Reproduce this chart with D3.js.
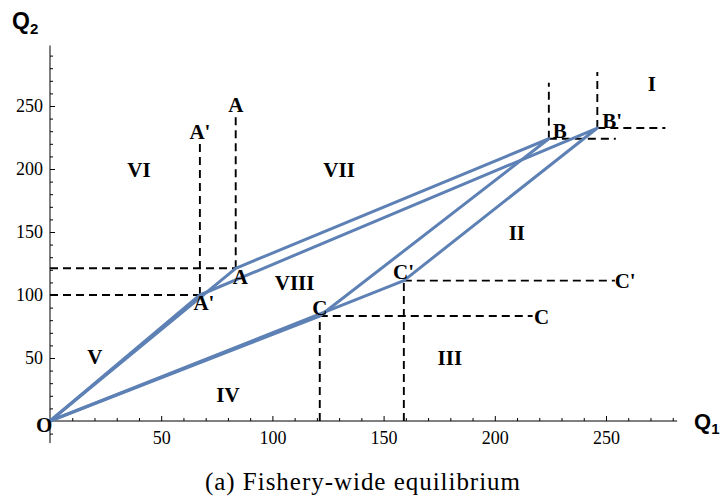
<!DOCTYPE html>
<html><head><meta charset="utf-8">
<script src="https://cdn.jsdelivr.net/npm/d3@7"></script>
<style>body{margin:0;background:#fff}</style>
</head><body>
<svg id="chart" width="725" height="502"></svg>
<script>
// ---- data ----
const pointNames = ["O","A","B","C","A'","B'","C'"];
const pointQ1 = [0, 83.5, 224.3, 121.3, 67.4, 246.1, 159.1];
const pointQ2 = [0, 121.2, 224.0, 83.3, 100.0, 232.5, 111.4];
// equilibrium outlines (by point name)
const pathOriginal = ["O","A","B","C","O"];
const pathPrimed = ["O","A'","B'","C'","O"];
// dashed guide segments [[q1,q2],[q1,q2]]
const guides = [
  [[0,121.2],[83.5,121.2]], [[83.5,121.2],[83.5,244]],
  [[0,100],[67.4,100]], [[67.4,100],[67.4,220.5]],
  [[224.3,224],[224.3,268.5]], [[224.3,224],[254.4,224]],
  [[246.1,232.5],[246.1,277]], [[246.1,232.5],[276.7,232.5]],
  [[121.3,0],[121.3,83.3]], [[121.3,83.3],[217,83.3]],
  [[159.1,0],[159.1,111.4]], [[159.1,111.4],[254,111.4]]
];
// point labels
const labelText = ["A","A'","A","A'","B","B'","C","C'","C","C'","O"];
const labelQ1 = [83.6, 67.4, 85.6, 69.2, 229.2, 252.8, 121.3, 159.0, 221.0, 258.6, -2.6];
const labelQ2 = [250.5, 229.0, 114.0, 93.6, 230.0, 238.0, 89.7, 118.0, 82.3, 111.0, -3.2];
// region labels
const regionText = ["I","II","III","IV","V","VI","VII","VIII"];
const regionQ1 = [270.6, 209.9, 179.8, 80.0, 20.2, 40.0, 130.0, 110.0];
const regionQ2 = [267.5, 149.0, 50.0, 20.6, 50.8, 199.0, 199.0, 109.5];
// ticks
const majorTicksX = [50,100,150,200,250];
const majorTicksY = [50,100,150,200,250];
const minorTicksX = d3.range(10, 290, 10).filter(v => v % 50 !== 0);
const minorTicksY = [-10].concat(d3.range(10, 300, 10).filter(v => v % 50 !== 0));
const xExtent = [0, 282];
const yExtent = [-17.5, 298];

// ---- drawing ----
const svg = d3.select("#chart");
const x = d3.scaleLinear().domain([0, 250]).range([50, 606]);
const y = d3.scaleLinear().domain([0, 250]).range([421, 106]);
const pt = Object.fromEntries(pointNames.map((n,i)=>[n,[pointQ1[i], pointQ2[i]]]));
const blue = "#5E81B5";
const serif = "'Liberation Serif','Times New Roman',serif";

// axes lines
svg.append("line").attr("x1", x(xExtent[0])).attr("x2", x(xExtent[1]))
  .attr("y1", y(0)).attr("y2", y(0)).attr("stroke","#000").attr("stroke-width",1);
svg.append("line").attr("x1", x(0)).attr("x2", x(0))
  .attr("y1", y(yExtent[0])).attr("y2", y(yExtent[1])).attr("stroke","#000").attr("stroke-width",1);

const gx = svg.append("g").attr("transform", `translate(0,${y(0)})`)
  .call(d3.axisBottom(x).tickValues(majorTicksX).tickSize(-5).tickPadding(10).tickFormat(d3.format("d")));
const gxm = svg.append("g").attr("transform", `translate(0,${y(0)})`)
  .call(d3.axisBottom(x).tickValues(minorTicksX).tickSize(-3).tickFormat(""));
const gy = svg.append("g").attr("transform", `translate(${x(0)},0)`)
  .call(d3.axisLeft(y).tickValues(majorTicksY).tickSize(-5).tickPadding(7).tickFormat(d3.format("d")));
const gym = svg.append("g").attr("transform", `translate(${x(0)},0)`)
  .call(d3.axisLeft(y).tickValues(minorTicksY).tickSize(-3).tickFormat(""));
[gx,gxm,gy,gym].forEach(g => {
  g.select(".domain").remove();
  g.selectAll("line").attr("stroke","#000").attr("stroke-width",1);
  g.selectAll("text").attr("font-family", serif).attr("font-size", 18).attr("fill","#000");
});

// dashed guides
svg.append("g").selectAll("line").data(guides).join("line")
  .attr("x1", d=>x(d[0][0])).attr("y1", d=>y(d[0][1]))
  .attr("x2", d=>x(d[1][0])).attr("y2", d=>y(d[1][1]))
  .attr("stroke","#000").attr("stroke-width",1.9).attr("stroke-dasharray","8,5");

// equilibrium lines
const line = d3.line().x(d=>x(d[0])).y(d=>y(d[1]));
[pathPrimed, pathOriginal].forEach(p => {
  svg.append("path").attr("d", line(p.map(n=>pt[n])))
    .attr("fill","none").attr("stroke", blue).attr("stroke-width", 3)
    .attr("stroke-linejoin","round");
});

// point labels
svg.append("g").selectAll("text").data(labelText).join("text")
  .attr("x",(d,i)=>x(labelQ1[i])).attr("y",(d,i)=>y(labelQ2[i]))
  .attr("text-anchor","middle").attr("dominant-baseline","central")
  .attr("font-family", serif).attr("font-weight","bold").attr("font-size", 21)
  .text(d=>d);

// region labels
svg.append("g").selectAll("text").data(regionText).join("text")
  .attr("x",(d,i)=>x(regionQ1[i])).attr("y",(d,i)=>y(regionQ2[i]))
  .attr("text-anchor","middle").attr("dominant-baseline","central")
  .attr("font-family", serif).attr("font-weight","bold").attr("font-size", 21)
  .text(d=>d);

// axis titles
const sans = "'Liberation Sans',Arial,sans-serif";
const q2 = svg.append("text").attr("x", 12).attr("y", 29)
  .attr("font-family", sans).attr("font-weight","bold").attr("font-size", 23);
q2.append("tspan").text("Q");
q2.append("tspan").attr("font-size", 15).attr("dy", 5).text("2");
const q1 = svg.append("text").attr("x", 694).attr("y", 429)
  .attr("font-family", sans).attr("font-weight","bold").attr("font-size", 22);
q1.append("tspan").text("Q");
q1.append("tspan").attr("font-size", 15).attr("dy", 5).text("1");

// caption
svg.append("text").attr("x", 205).attr("y", 490)
  .attr("font-family", serif).attr("font-size", 25)
  .attr("textLength", 315).attr("lengthAdjust","spacing")
  .text("(a) Fishery-wide equilibrium");
</script>
</body></html>
